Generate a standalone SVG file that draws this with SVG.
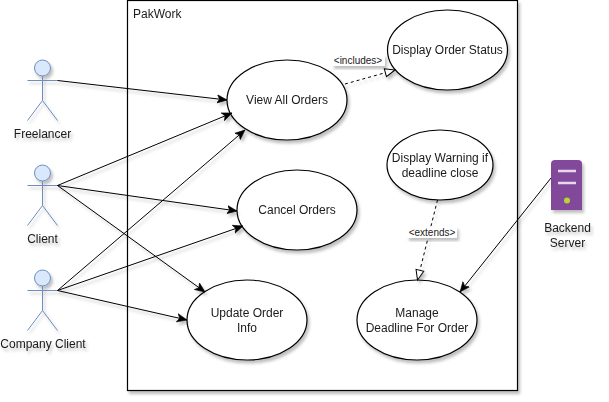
<svg xmlns="http://www.w3.org/2000/svg" width="609" height="402" viewBox="0 0 609 402">
<defs>
<filter id="sh" x="-20%" y="-20%" width="150%" height="150%"><feDropShadow dx="2" dy="3" stdDeviation="1.6" flood-color="#000" flood-opacity="0.25"/></filter>
<marker id="a" markerWidth="12" markerHeight="10" refX="10" refY="5" orient="auto" markerUnits="userSpaceOnUse"><path d="M0,0.800 L10,5 L0,9.200 L2.600,5 Z" fill="#000" stroke="#000" stroke-width="0.6"/></marker>
<marker id="o" markerWidth="13" markerHeight="12" refX="11" refY="5.500" orient="auto" markerUnits="userSpaceOnUse"><path d="M1,1.500 L11,5.500 L1,9.500 Z" fill="#fff" stroke="#000" stroke-width="1"/></marker>
</defs>
<style>
text{font-family:"Liberation Sans",Arial,sans-serif;font-size:12px;fill:#1a1a1a;text-anchor:middle}
.shadow{filter:url(#sh)}
.uc{fill:#fff;stroke:#000;stroke-width:1.200}
.act{fill:none;stroke:#6c8ebf;stroke-width:1}
.head{fill:#dae8fc;stroke:#6c8ebf;stroke-width:1}
.c{fill:none;stroke:#000;stroke-width:1;marker-end:url(#a)}
.d{fill:none;stroke:#000;stroke-width:1;stroke-dasharray:3 3;marker-end:url(#o)}
.lb{fill:#fff}
.s{font-size:10px}
</style>
<g id="boundary" class="shadow"><rect x="127.500" y="0.500" width="390" height="390" fill="#fff" stroke="#000" stroke-width="1.200"/><text x="133" y="18" style="text-anchor:start">PakWork</text></g>
<g id="freelancer" class="shadow"><circle class="head" cx="42.500" cy="68" r="8"/><path class="act" d="M42.500,76V100.500M27.500,80.500H57.500M42.500,100.500L27.500,120.500M42.500,100.500L57.500,120.500"/><text x="42.500" y="138">Freelancer</text></g>
<g id="client" class="shadow"><circle class="head" cx="42.500" cy="173" r="8"/><path class="act" d="M42.500,181V205.500M27.500,185.500H57.500M42.500,205.500L27.500,225.500M42.500,205.500L57.500,225.500"/><text x="42.500" y="243">Client</text></g>
<g id="company-client" class="shadow"><circle class="head" cx="42.500" cy="278" r="8"/><path class="act" d="M42.500,286V310.500M27.500,290.500H57.500M42.500,310.500L27.500,330.500M42.500,310.500L57.500,330.500"/><text x="43" y="348">Company Client</text></g>
<g id="view-all-orders" class="shadow"><ellipse class="uc" cx="287" cy="100" rx="60" ry="40"/><text x="287" y="104">View All Orders</text></g>
<g id="display-order-status" class="shadow"><ellipse class="uc" cx="447.500" cy="50" rx="60" ry="40"/><text x="447.500" y="54">Display Order Status</text></g>
<g id="cancel-orders" class="shadow"><ellipse class="uc" cx="297" cy="210" rx="60" ry="40"/><text x="297" y="214">Cancel Orders</text></g>
<g id="update-order-info" class="shadow"><ellipse class="uc" cx="247" cy="320" rx="60" ry="40"/><text x="247" y="317">Update Order</text><text x="247" y="332">Info</text></g>
<g id="display-warning" class="shadow"><ellipse class="uc" cx="440" cy="165" rx="53" ry="35"/><text x="440" y="162">Display Warning if</text><text x="440" y="177">deadline close</text></g>
<g id="manage-deadline" class="shadow"><ellipse class="uc" cx="417" cy="320" rx="60" ry="40"/><text x="417" y="317">Manage</text><text x="417" y="332">Deadline For Order</text></g>
<g id="backend-server" class="shadow"><path d="M551,210V164Q551,160 555,160H578Q582,160 582,164V210Z" fill="#824a9a"/><path d="M558,171H576M558,183H576" stroke="#e6d6ee" stroke-width="2.400" fill="none"/><circle cx="567" cy="200.500" r="3" fill="#b9d432"/><text x="567.500" y="232">Backend</text><text x="567.500" y="247">Server</text></g>
<g id="connectors" class="shadow">
<path class="c" d="M57.500,80.500L227,100"/>
<path class="c" d="M57.500,185.500L232,113"/>
<path class="c" d="M57.500,185.500L237,211"/>
<path class="c" d="M57.500,185.500L205,292"/>
<path class="c" d="M57.500,290.500L245,130"/>
<path class="c" d="M57.500,290.500L243,226"/>
<path class="c" d="M57.500,290.500L187,320"/>
<path class="c" d="M551,178L460,292"/>
<path class="d" d="M345,84L395,70"/>
<path class="d" d="M437.500,200L417.500,280"/>
</g>
<g id="edge-labels">
<rect class="lb shadow" x="332" y="54.500" width="53" height="11.500"/><text class="s" x="358" y="64">&lt;includes&gt;</text>
<rect class="lb shadow" x="407" y="226.500" width="50" height="11.500"/><text class="s" x="432" y="236">&lt;extends&gt;</text>
</g>
</svg>
